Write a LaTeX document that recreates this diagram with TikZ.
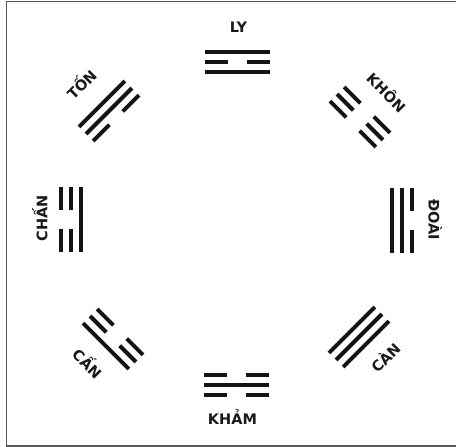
\documentclass[tikz,border=0pt]{standalone}
\usepackage{fontspec}
\setmainfont{DejaVu Sans}
\newcommand\yaoline[2]{%
  \ifnum#2=1
    \draw[yao] (-32.5,#1) -- (32.5,#1);
  \else
    \draw[yao] (-32.5,#1) -- (-9.5,#1);
    \draw[yao] (9.5,#1) -- (32.5,#1);
  \fi}
% name, x, y, outward angle, inner, middle, outer line (1 solid, 0 broken)
\newcommand\trigram[7]{%
  \coordinate (#1) at (#2,#3);
  \begin{scope}[shift={(#1)}, rotate=#4-90]
    \yaoline{-10}{#5}\yaoline{0}{#6}\yaoline{10}{#7}
  \end{scope}}
\begin{document}
\begin{tikzpicture}[x=1pt,y=1pt,
  yao/.style={line width=4pt, draw=black!92},
  lbl/.style={font=\fontsize{14.5}{14.5}\selectfont\bfseries, text height=10.6pt,
              text depth=0pt, inner sep=0pt, text=black!90}]
\useasboundingbox (0,0) rectangle (456,447);
\draw[black!65, line width=1.5pt] (456,445.5) -- (6.5,445.5) -- (6.5,1) -- (456,1);

\trigram{ly}{237}{385}{90}{1}{0}{1}
\trigram{khon}{360}{330}{45}{0}{0}{0}
\trigram{doai}{402}{226.5}{0}{1}{1}{0}
\trigram{can}{359}{110}{-45}{1}{1}{1}
\trigram{kham}{236}{62}{-90}{0}{1}{0}
\trigram{cang}{113}{108}{-135}{0}{0}{1}
\trigram{chan}{71}{227.5}{180}{1}{0}{0}
\trigram{ton}{109}{336}{135}{0}{1}{1}

\node[lbl] (tly) at (238.5,420) {LY};
\node[lbl, rotate=-45] (tkhon) at (386,354) {KHÔN};
\node[lbl, rotate=-90] (tdoai) at (434,227) {ĐOÀI};
\node[lbl, rotate=45] (tcan) at (386,89) {CÀN};
\node[lbl] (tkham) at (232.5,28) {KHẢM};
\node[lbl, rotate=-45] (tcang) at (87,83) {CẤN};
\node[lbl, rotate=90] (tchan) at (42,229) {CHẤN};
\node[lbl, rotate=45] (tton) at (82,362) {TỐN};
\end{tikzpicture}
\end{document}
